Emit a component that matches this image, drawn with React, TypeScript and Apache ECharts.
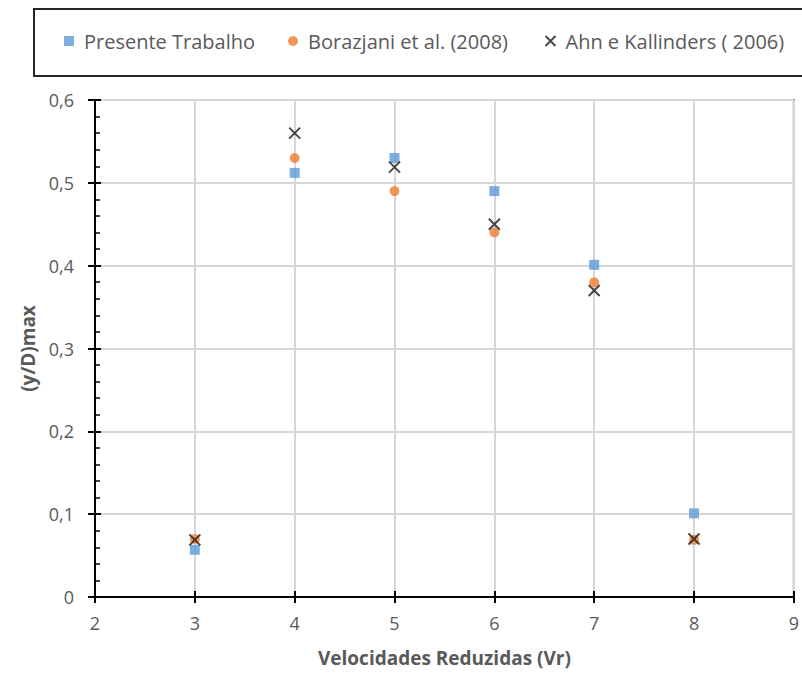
import React, { useEffect, useRef } from "react";
import * as echarts from "echarts";

const velocidades = [3, 4, 5, 6, 7, 8];
const presenteTrabalho = [0.057, 0.512, 0.53, 0.49, 0.401, 0.101];
const borazjani = [0.07, 0.53, 0.49, 0.44, 0.38, 0.069];
const ahnKallinders = [0.069, 0.56, 0.519, 0.45, 0.37, 0.07];

const seriesNames = ["Presente Trabalho", "Borazjani et al. (2008)", "Ahn e Kallinders ( 2006)"];
const legendLefts = [64, 288, 543];

const FONT = "'Open Sans', Lato, sans-serif";
const GREY = "#595959";

function pairs(ys: number[]) {
  return velocidades.map((x, i) => [x, ys[i]]);
}

export default function App() {
  const ref = useRef<HTMLDivElement>(null);
  useEffect(() => {
    if (!ref.current) return;
    const chart = echarts.init(ref.current, null, { renderer: "svg" });
    const crossPath = "path://M0,0L10,10M10,0L0,10";
    chart.setOption({
      animation: false,
      backgroundColor: "#fff",
      textStyle: { fontFamily: FONT },
      graphic: [
        {
          type: "rect",
          shape: { x: 34, y: 9, width: 800, height: 67 },
          style: { fill: "none", stroke: "#262626", lineWidth: 2 },
          silent: true,
        },
      ],
      legend: seriesNames.map((name, i) => ({
        left: legendLefts[i],
        top: 31,
        padding: 0,
        itemWidth: 10,
        itemHeight: 10,
        textStyle: { color: GREY, fontSize: 20, fontFamily: FONT, padding: [0, 0, 0, 5] },
        data: [name],
      })),
      grid: {
        left: 95,
        top: 100,
        right: 7,
        bottom: 78,
        show: true,
        borderColor: "#404040",
        borderWidth: 2,
        backgroundColor: "transparent",
      },
      xAxis: [
        {
          type: "value",
          min: 2,
          max: 9,
          interval: 1,
          name: "Velocidades Reduzidas (Vr)",
          nameLocation: "middle",
          nameGap: 51,
          nameTextStyle: { color: GREY, fontSize: 19, fontWeight: "bold", fontFamily: FONT },
          axisLine: { show: true, onZero: false, lineStyle: { color: "#000", width: 2 } },
          axisTick: { show: true, inside: false, length: 6, lineStyle: { color: "#000", width: 2 } },
          axisLabel: { color: GREY, fontSize: 18, margin: 17, fontFamily: FONT },
          splitLine: { show: true, lineStyle: { color: "#d6d6d6", width: 2 } },
        },
        {
          type: "value",
          min: 2,
          max: 9,
          interval: 1,
          position: "bottom",
          axisLine: { show: false },
          axisTick: { show: true, inside: true, length: 6, lineStyle: { color: "#000", width: 2 } },
          axisLabel: { show: false },
          splitLine: { show: false },
        },
      ],
      yAxis: [
        {
          type: "value",
          min: 0,
          max: 0.6,
          interval: 0.1,
          name: "(y/D)max",
          nameLocation: "middle",
          nameGap: 55,
          nameTextStyle: { color: GREY, fontSize: 19, fontWeight: "bold", fontFamily: FONT },
          axisLine: { show: true, onZero: false, lineStyle: { color: "#000", width: 2 } },
          axisTick: { show: true, inside: true, length: 6, lineStyle: { color: "#000", width: 2 } },
          minorTick: { show: true, splitNumber: 5, length: 5, lineStyle: { color: "#000", width: 1.5 } },
          axisLabel: {
            color: GREY,
            fontSize: 18,
            margin: 21,
            fontFamily: FONT,
            formatter: (v: number) => (v === 0 ? "0" : v.toFixed(1).replace(".", ",")),
          },
          splitLine: { show: true, lineStyle: { color: "#d6d6d6", width: 2 } },
        },
        {
          type: "value",
          min: 0,
          max: 0.6,
          interval: 0.1,
          position: "left",
          axisLine: { show: false },
          axisTick: { show: true, inside: false, length: 7, lineStyle: { color: "#000", width: 2 } },
          axisLabel: { show: false },
          splitLine: { show: false },
        },
      ],
      series: [
        {
          name: seriesNames[0],
          type: "scatter",
          symbol: "rect",
          symbolSize: 10,
          itemStyle: { color: "#5B9BD5" },
          data: pairs(presenteTrabalho),
          z: 2,
        },
        {
          name: seriesNames[1],
          type: "scatter",
          symbol: "circle",
          symbolSize: 10,
          itemStyle: { color: "#ED7D31" },
          data: pairs(borazjani),
          z: 3,
        },
        {
          name: seriesNames[2],
          type: "scatter",
          symbol: crossPath,
          symbolSize: 11,
          itemStyle: { color: "none", borderColor: "#1a1a1a", borderWidth: 2 },
          data: pairs(ahnKallinders),
          z: 4,
        },
      ],
    });
    return () => chart.dispose();
  }, []);
  return <div ref={ref} style={{ width: 802, height: 675, position: "absolute", left: 0, top: 0 }} />;
}
